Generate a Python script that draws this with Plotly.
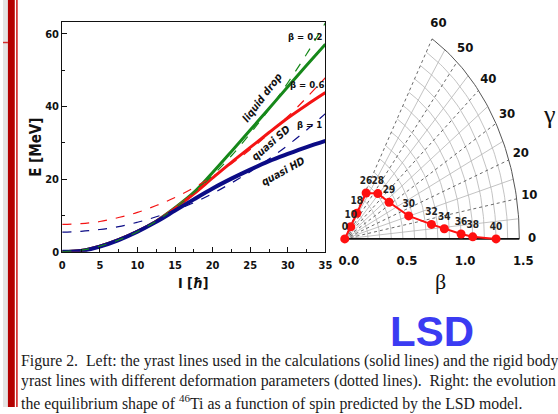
import numpy as np
import plotly.graph_objects as go

# ---------------- data: left panel (yrast lines) ----------------
I_vals = [0, 2.5, 5, 7.5, 10, 12.5, 15, 17.5, 20, 22.5, 25, 27.5, 30, 32.5, 35]
E_liquid_drop = [0, 0.3, 1.5, 3.3, 5.6, 8.4, 12.1, 16.3, 21.8, 27.6, 33.5, 39.4, 45.4, 51.3, 57.1]
E_quasi_SD = [0, 0.3, 1.5, 3.3, 5.6, 8.4, 11.9, 15.9, 20.3, 24.6, 28.7, 32.8, 36.8, 40.4, 43.8]
E_quasi_HD = [0, 0.2, 1.4, 3.2, 5.5, 8.2, 11.3, 14.4, 17.4, 20.1, 22.6, 24.9, 26.9, 28.8, 30.5]
E_rigid_b02 = [0, 0.4, 1.5, 3.2, 5.5, 8.4, 12.0, 16.2, 21.0, 26.4, 32.5, 39.2, 46.5, 54.4, 63.0]
E_rigid_b06 = [7.5, 7.7, 8.3, 9.4, 10.8, 12.7, 14.9, 17.6, 20.7, 24.2, 28.1, 32.5, 37.2, 42.4, 47.9]
E_rigid_b1 = [5.4, 5.6, 6.1, 6.9, 8.1, 9.6, 11.4, 13.5, 16.0, 18.9, 22.0, 25.5, 29.3, 33.5, 38.0]
x_ticks = [0, 5, 10, 15, 20, 25, 30, 35]
y_ticks = [0, 20, 40, 60]

# ---------------- data: right panel (equilibrium shape) ----------------
spin_labels = ["0", "10", "18", "26", "28", "29", "30", "32", "34", "36", "38", "40"]
beta_eq = [0.0, 0.094, 0.196, 0.35, 0.409, 0.449, 0.569, 0.751, 0.858, 1.0, 1.10, 1.30]
gamma_eq = [0, 57, 58, 58.4, 46, 32, 15.2, 7.2, 4.4, 1.8, 0.7, 0]
beta_ticks = [0.0, 0.5, 1.0, 1.5]
beta_tick_text = ["0.0", "0.5", "1.0", "1.5"]
gamma_ticks = [0, 10, 20, 30, 40, 50, 60]
beta_grid = [round(0.1 * k, 1) for k in range(1, 16)]
gamma_grid = list(range(0, 61, 5))

W, H = 558, 414
def px(x): return x / W
def py(y): return 1 - y / H

SANS = "DejaVu Sans Condensed, Liberation Sans Narrow, Liberation Sans, Arial"

fig = go.Figure()

# left panel curves
green, red, navy = "#16881a", "#f41414", "#0c0c86"
solid = [(E_liquid_drop, green, 3), (E_quasi_SD, red, 3), (E_quasi_HD, navy, 4)]
for E, c, w in solid:
    fig.add_trace(go.Scatter(x=I_vals, y=E, mode="lines", line=dict(color=c, width=w, shape="spline"),
                             showlegend=False, hoverinfo="skip"))
dashed = [(E_rigid_b02, green), (E_rigid_b06, red), (E_rigid_b1, navy)]
for E, c in dashed:
    fig.add_trace(go.Scatter(x=I_vals, y=E, mode="lines",
                             line=dict(color=c, width=1.2, dash="dash", shape="spline"),
                             showlegend=False, hoverinfo="skip"))

# right panel: grid (polar sector drawn in cartesian beta*cos(g), beta*sin(g))
def arc(b):
    g = np.radians(np.linspace(0, 60, 61))
    return list(b * np.cos(g)) + [None], list(b * np.sin(g)) + [None]

def ray(gdeg, b0=0.0, b1=1.5):
    g = np.radians(gdeg)
    return [b0 * np.cos(g), b1 * np.cos(g), None], [b0 * np.sin(g), b1 * np.sin(g), None]

ax, ay = [], []
for b in beta_grid[:-1]:
    x, y = arc(b); ax += x; ay += y
for gdeg in gamma_grid[1:-1]:
    if gdeg % 10 != 0:
        x, y = ray(gdeg); ax += x; ay += y
fig.add_trace(go.Scatter(x=ax, y=ay, mode="lines", line=dict(color="#b4b4b4", width=0.8),
                         xaxis="x2", yaxis="y2", showlegend=False, hoverinfo="skip"))
dx, dy = [], []
for gdeg in gamma_grid[1:]:
    if gdeg % 10 == 0:
        x, y = ray(gdeg); dx += x; dy += y
fig.add_trace(go.Scatter(x=dx, y=dy, mode="lines", line=dict(color="#444444", width=0.8, dash="dot"),
                         xaxis="x2", yaxis="y2", showlegend=False, hoverinfo="skip"))
x, y = arc(beta_grid[-1])
fig.add_trace(go.Scatter(x=x, y=y, mode="lines", line=dict(color="#555555", width=1),
                         xaxis="x2", yaxis="y2", showlegend=False, hoverinfo="skip"))
x, y = ray(0)
fig.add_trace(go.Scatter(x=x, y=y, mode="lines", line=dict(color="#111111", width=1.6),
                         xaxis="x2", yaxis="y2", showlegend=False, hoverinfo="skip"))

# gamma labels
gr = np.radians(gamma_ticks)
fig.add_trace(go.Scatter(x=list(1.61 * np.cos(gr)), y=list(1.61 * np.sin(gr)), mode="text",
                         text=[str(g) for g in gamma_ticks], textposition="middle center",
                         textfont=dict(family=SANS, size=13, color="#111111", weight="bold"),
                         cliponaxis=False, xaxis="x2", yaxis="y2", showlegend=False, hoverinfo="skip"))

# equilibrium shape path
ge = np.radians(gamma_eq)
bx = list(np.array(beta_eq) * np.cos(ge))
by = list(np.array(beta_eq) * np.sin(ge))
fig.add_trace(go.Scatter(x=bx, y=by, mode="lines+markers+text", text=spin_labels,
                         textposition="top center",
                         textfont=dict(family=SANS, size=10, color="#222222", weight="bold"),
                         line=dict(color="#ff1010", width=2),
                         marker=dict(color="#ff1010", size=9),
                         cliponaxis=False, xaxis="x2", yaxis="y2", showlegend=False, hoverinfo="skip"))

tickfont = dict(family=SANS, size=11, color="#111111", weight="bold")

APEX = 348.0       # pixel x of beta = 0
BASE = 243.0       # pixel y of gamma = 0 line
KX, KY = 118.5, 156.6   # pixels per unit beta (horizontal / vertical)

fig.update_layout(
    width=W, height=H, margin=dict(l=0, r=0, t=0, b=0),
    paper_bgcolor="white", plot_bgcolor="rgba(0,0,0,0)", showlegend=False,
    xaxis=dict(domain=[px(60.3), px(328.3)], range=[0, 35], tickvals=x_ticks, ticks="inside", ticklen=5,
               tickcolor="#111", showgrid=False, zeroline=False, showline=True, linecolor="#111",
               linewidth=1, mirror=True, tickfont=tickfont, ticklabelstandoff=3,
               minor=dict(ticks="inside", ticklen=3, dtick=2.5, tickcolor="#111")),
    yaxis=dict(domain=[py(256), py(22.5)], range=[0, 63.19], tickvals=y_ticks, ticks="inside", ticklen=5,
               tickcolor="#111", showgrid=False, zeroline=False, showline=True, linecolor="#111",
               linewidth=1, mirror=True, tickfont=tickfont,
               minor=dict(ticks="inside", ticklen=3, dtick=10, tickcolor="#111")),
    xaxis2=dict(domain=[px(340), px(548)], range=[(340 - APEX) / KX, (548 - APEX) / KX],
                tickvals=beta_ticks, ticktext=beta_tick_text, ticks="", showgrid=False, zeroline=False,
                showline=False, tickfont=dict(family=SANS, size=13, color="#111", weight="bold"),
                anchor="y2", ticklabelstandoff=5, ticklabelshift=4),
    yaxis2=dict(domain=[py(250), py(10)], range=[(BASE - 250) / KY, (BASE - 10) / KY],
                showticklabels=False, ticks="", showgrid=False, zeroline=False, showline=False,
                anchor="x2"),
)

def note(text, x, y, size, angle=0, family=SANS, color="#111111", **kw):
    fig.add_annotation(text=text, x=px(x), y=py(y), xref="paper", yref="paper", showarrow=False,
                       textangle=angle, font=dict(family=family, size=size, color=color),
                       xanchor=kw.pop("xanchor", "center"), yanchor=kw.pop("yanchor", "middle"), **kw)

note("<b>E [MeV]</b>", 34, 150, 15, angle=-90)
note("<b>I [<i>ħ</i>]</b>", 194, 288, 14)
note("<b><i>liquid drop</i></b>", 264, 99, 10.5, angle=-53)
note("<b><i>quasi SD</i></b>", 272, 145, 10.5, angle=-41)
note("<b><i>quasi HD</i></b>", 285, 174, 10.5, angle=-29)
note("<b>β = 0.2</b>", 308, 37, 9.5)
note("<b>β = 0.6</b>", 310, 86, 9.5)
note("<b>β = 1</b>", 312, 127, 9.5)
note("γ", 556, 116, 26, family="Liberation Serif, DejaVu Serif")
note("β", 445, 286, 22, family="Liberation Serif, DejaVu Serif")
note("<b>LSD</b>", 437, 337, 42, family="Liberation Sans, Arial", color="#3b3bf2")

captions = [
    "Figure 2.  Left: the yrast lines used in the calculations (solid lines) and the rigid body",
    "yrast lines with different deformation parameters (dotted lines).  Right: the evolution of",
    "the equilibrium shape of <sup>46</sup>Ti as a function of spin predicted by the LSD model.",
]
for txt, yy in zip(captions, [367, 388, 409]):
    note(txt, 16, yy, 15.8, family="Liberation Serif, DejaVu Serif, serif", color="#1a1a1a",
         xanchor="left")

# page frame decorations at the left edge
fig.add_shape(type="rect", xref="paper", yref="paper", x0=0, x1=px(5), y0=0, y1=1,
              fillcolor="#e4e4e4", line_width=0, layer="below")
fig.add_shape(type="rect", xref="paper", yref="paper", x0=px(5), x1=px(12), y0=0, y1=1,
              fillcolor="#b40000", line_width=0)
fig.add_shape(type="rect", xref="paper", yref="paper", x0=px(13.3), x1=px(15), y0=0, y1=1,
              fillcolor="#d42a2a", line_width=0)
fig.add_shape(type="rect", xref="paper", yref="paper", x0=0, x1=px(5), y0=py(44), y1=py(42.5),
              fillcolor="#d42a2a", line_width=0)

fig.write_html("out.html")
